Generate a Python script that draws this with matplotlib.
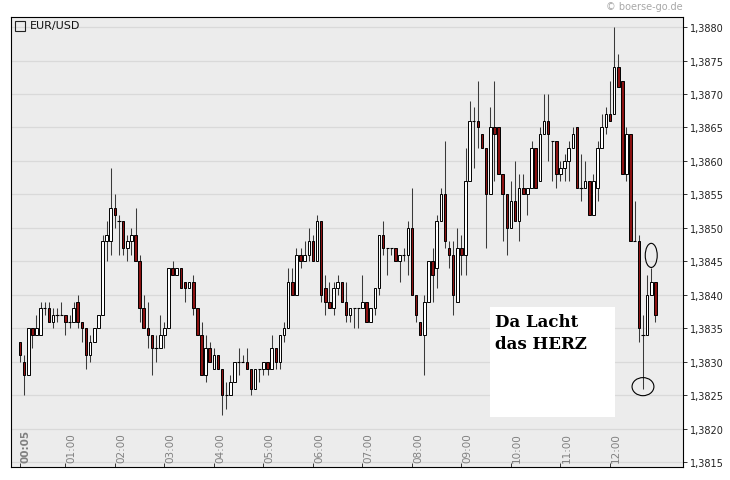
import numpy as np
import matplotlib
matplotlib.use("Agg")
import matplotlib.pyplot as plt
import matplotlib.transforms as mtransforms
from matplotlib.patches import Ellipse, Rectangle

# EUR/USD, 5-minute candles starting 00:05, prices in pips (13833 -> 1,3833)
opens = [13833, 13830, 13828, 13835, 13834, 13834, 13838, 13838, 13836, 13837,
         13837, 13837, 13836, 13836, 13839, 13836, 13835, 13831, 13833, 13835,
         13837, 13848, 13848, 13853, 13851, 13851, 13847, 13848, 13849, 13845,
         13838, 13835, 13834, 13832, 13832, 13834, 13835, 13844, 13843, 13844,
         13842, 13841, 13842, 13838, 13834, 13828, 13832, 13829, 13831, 13829,
         13825, 13825, 13827, 13830, 13830, 13830, 13829, 13826, 13829, 13829,
         13830, 13829, 13832, 13830, 13834, 13835, 13842, 13840, 13846, 13845,
         13846, 13848, 13845, 13851, 13841, 13839, 13838, 13841, 13842, 13839,
         13837, 13838, 13838, 13838, 13839, 13836, 13838, 13841, 13849, 13847,
         13847, 13847, 13845, 13846, 13846, 13850, 13840, 13836, 13834, 13839,
         13845, 13844, 13851, 13855, 13847, 13846, 13839, 13847, 13846, 13857,
         13866, 13866, 13864, 13862, 13855, 13865, 13865, 13858, 13855, 13850,
         13854, 13851, 13856, 13855, 13856, 13862, 13857, 13864, 13866, 13863,
         13863, 13858, 13859, 13860, 13862, 13865, 13856, 13856, 13857, 13852,
         13856, 13862, 13865, 13867, 13867, 13874, 13872, 13858, 13864, 13848,
         13848, 13834, 13834, 13840, 13842]
highs = [13833, 13831, 13835, 13835, 13837, 13839, 13839, 13839, 13838, 13838,
         13839, 13837, 13837, 13839, 13840, 13836, 13835, 13834, 13835, 13837,
         13849, 13851, 13859, 13855, 13852, 13851, 13849, 13850, 13853, 13846,
         13840, 13839, 13834, 13834, 13837, 13836, 13844, 13845, 13844, 13844,
         13842, 13842, 13843, 13838, 13836, 13834, 13833, 13832, 13831, 13829,
         13827, 13828, 13830, 13832, 13831, 13832, 13829, 13829, 13829, 13830,
         13830, 13834, 13832, 13834, 13836, 13844, 13844, 13847, 13847, 13848,
         13850, 13849, 13852, 13851, 13843, 13842, 13842, 13843, 13842, 13842,
         13838, 13838, 13838, 13843, 13839, 13838, 13841, 13849, 13851, 13847,
         13847, 13847, 13846, 13847, 13851, 13856, 13840, 13836, 13840, 13845,
         13847, 13852, 13856, 13863, 13848, 13848, 13850, 13849, 13862, 13869,
         13868, 13872, 13864, 13862, 13868, 13872, 13865, 13858, 13855, 13857,
         13860, 13858, 13858, 13856, 13863, 13862, 13865, 13870, 13870, 13863,
         13863, 13860, 13861, 13863, 13865, 13865, 13861, 13860, 13857, 13858,
         13863, 13867, 13868, 13872, 13880, 13876, 13872, 13865, 13864, 13854,
         13849, 13837, 13843, 13844, 13842]
lows = [13830, 13825, 13828, 13832, 13834, 13834, 13837, 13836, 13835, 13836,
        13837, 13834, 13835, 13836, 13835, 13833, 13829, 13830, 13833, 13835,
        13837, 13845, 13846, 13850, 13846, 13846, 13845, 13846, 13845, 13836,
        13835, 13832, 13828, 13830, 13832, 13832, 13835, 13843, 13843, 13841,
        13839, 13841, 13837, 13834, 13828, 13827, 13830, 13829, 13829, 13822,
        13823, 13825, 13827, 13828, 13830, 13829, 13825, 13826, 13827, 13828,
        13828, 13829, 13829, 13829, 13833, 13835, 13840, 13840, 13844, 13845,
        13845, 13845, 13845, 13839, 13837, 13838, 13837, 13840, 13839, 13836,
        13836, 13835, 13835, 13838, 13836, 13836, 13837, 13840, 13846, 13843,
        13846, 13845, 13842, 13845, 13843, 13840, 13836, 13834, 13828, 13839,
        13839, 13841, 13851, 13847, 13844, 13837, 13839, 13843, 13843, 13857,
        13859, 13862, 13862, 13847, 13855, 13857, 13858, 13848, 13846, 13850,
        13851, 13848, 13855, 13852, 13856, 13856, 13857, 13864, 13860, 13857,
        13856, 13857, 13857, 13857, 13862, 13856, 13854, 13856, 13852, 13852,
        13854, 13862, 13864, 13866, 13867, 13871, 13858, 13857, 13848, 13848,
        13833, 13826, 13834, 13840, 13836]
closes = [13831, 13828, 13835, 13834, 13835, 13838, 13838, 13836, 13837, 13837,
          13837, 13836, 13836, 13838, 13836, 13835, 13831, 13833, 13835, 13837,
          13848, 13849, 13853, 13852, 13851, 13847, 13848, 13849, 13845, 13838,
          13835, 13834, 13832, 13832, 13834, 13835, 13844, 13843, 13844, 13841,
          13841, 13842, 13838, 13834, 13828, 13832, 13830, 13831, 13829, 13825,
          13825, 13827, 13830, 13830, 13830, 13829, 13826, 13829, 13829, 13830,
          13829, 13832, 13830, 13834, 13835, 13842, 13840, 13846, 13845, 13846,
          13848, 13845, 13851, 13840, 13839, 13838, 13841, 13842, 13839, 13837,
          13838, 13838, 13838, 13839, 13836, 13838, 13841, 13849, 13847, 13847,
          13847, 13845, 13846, 13846, 13850, 13840, 13837, 13834, 13839, 13845,
          13843, 13851, 13855, 13848, 13846, 13840, 13847, 13846, 13857, 13866,
          13866, 13865, 13862, 13855, 13865, 13864, 13858, 13855, 13850, 13854,
          13851, 13856, 13855, 13856, 13862, 13856, 13864, 13866, 13864, 13863,
          13858, 13859, 13860, 13862, 13864, 13856, 13856, 13857, 13852, 13857,
          13862, 13865, 13867, 13866, 13874, 13871, 13858, 13864, 13848, 13848,
          13835, 13834, 13840, 13842, 13837]

tick_times = ["00:05", "01:00", "02:00", "03:00", "04:00", "05:00", "06:00",
              "07:00", "08:00", "09:00", "10:00", "11:00", "12:00"]
price_ticks = [1.3815, 1.3820, 1.3825, 1.3830, 1.3835, 1.3840, 1.3845,
               1.3850, 1.3855, 1.3860, 1.3865, 1.3870, 1.3875, 1.3880]
circled = [151, 153]  # candles marked with a hand-drawn ring
note_lines = ["Da Lacht", "das HERZ"]

o = np.array(opens) / 10000
h = np.array(highs) / 10000
l = np.array(lows) / 10000
c = np.array(closes) / 10000
x = np.arange(len(o))

W, H = 730, 481
fig = plt.figure(figsize=(W / 100, H / 100), dpi=100)
ax = fig.add_axes([11 / W, 13 / H, 672 / W, 450 / H])
ax.set_facecolor("#ececec")

# grid
for p in price_ticks:
    ax.axhline(p, color="#d9d9d9", lw=0.9, zorder=0)

# candles
up = c > o
doji = c == o
red = "#8c1212"
ax.vlines(x, l, h, color="#3a3a3a", lw=0.75, zorder=2)
body_lo = np.minimum(o, c)
body_hi = np.maximum(o, c)
nd = ~doji
ax.bar(x[nd], (body_hi - body_lo)[nd], bottom=body_lo[nd], width=0.62,
       color=np.where(up[nd], "white", red), edgecolor="black", lw=0.7, zorder=3)
ax.hlines(o[doji], x[doji] - 0.4, x[doji] + 0.4, color="black", lw=0.8, zorder=3)

# rings
i0, i1 = circled
ax.add_patch(Ellipse((i0, l[i0] + 0.00003), 5.3, 0.00027, fill=False,
                     ec="black", lw=0.8, zorder=4))
ax.add_patch(Ellipse((i1, h[i1] + 0.00019), 2.9, 0.00036, fill=False,
                     ec="black", lw=0.8, zorder=4))

ax.set_xlim(-2.18, 160.7)
ax.set_ylim(1.38143, 1.38815)

# axes styling
for s in ax.spines.values():
    s.set_color("black")
    s.set_linewidth(0.8)
ax.yaxis.tick_right()
ax.set_yticks(price_ticks)
ax.set_yticklabels([f"{p:.4f}".replace(".", ",") for p in price_ticks])
ax.tick_params(axis="y", direction="out", length=3, width=0.7, color="#333333",
               labelsize=7, labelcolor="#222222", pad=2)

tick_idx = [(int(t[:2]) * 60 + int(t[3:]) - 5) // 5 for t in tick_times]
ax.set_xticks(tick_idx)
ax.set_xticklabels([])
ax.tick_params(axis="x", direction="in", length=3, width=0.7, color="#333333")
trans = mtransforms.blended_transform_factory(ax.transData, ax.transAxes)
trans = trans + mtransforms.ScaledTranslation(1 / 100, 0, fig.dpi_scale_trans)
for t, i in zip(tick_times, tick_idx):
    ax.text(i, 0.012, t, rotation=90, ha="left", va="bottom", fontsize=7.5,
            color="#808080", fontweight="bold" if t == "00:05" else "normal",
            transform=trans)

# note box
ax.add_patch(Rectangle((0.7128, 0.1104), 0.186, 0.2445, transform=ax.transAxes,
                       facecolor="white", edgecolor="none", zorder=5))
ax.text(0.7195, 0.324, note_lines[0], transform=ax.transAxes, ha="left",
        va="center", family="DejaVu Serif", fontweight="bold", fontsize=12,
        zorder=6)
ax.text(0.7195, 0.275, note_lines[1], transform=ax.transAxes, ha="left",
        va="center", family="DejaVu Serif", fontweight="bold", fontsize=12,
        zorder=6)

# legend
fig.add_artist(Rectangle((15 / W, 1 - 31.5 / H), 9.5 / W, 9.5 / H,
                         transform=fig.transFigure, fill=False,
                         ec="#222222", lw=0.8))
fig.text(30 / W, 1 - 26.5 / H, "EUR/USD", fontsize=8, color="#111111",
         ha="left", va="center")

# watermark
fig.text(683 / W, 1 - 7 / H, "\u00a9 boerse-go.de", fontsize=7,
         color="#a8a8a8", ha="right", va="center")

fig.savefig("out.png", dpi=100)
